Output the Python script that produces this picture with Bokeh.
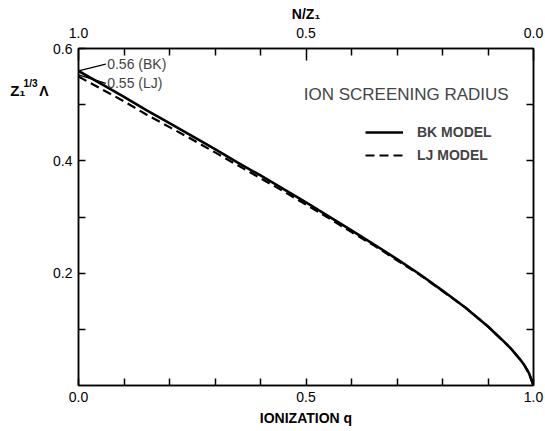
from bokeh.plotting import figure
from bokeh.models import (Range1d, LinearAxis, FixedTicker, Label, Legend,
                          LegendItem, NumeralTickFormatter, ColumnDataSource)
from bokeh.embed import file_html
from bokeh.resources import INLINE

# ---- data ----
ionization_q = [0.0, 0.05, 0.1, 0.15, 0.2, 0.25, 0.3, 0.35, 0.4, 0.45, 0.5,
                0.55, 0.6, 0.65, 0.7, 0.75, 0.8, 0.85, 0.9, 0.93, 0.95, 0.97,
                0.98, 0.99, 1.0]
bk_model = [0.560, 0.537, 0.514, 0.490, 0.467, 0.444, 0.421, 0.397, 0.374,
            0.350, 0.326, 0.301, 0.276, 0.251, 0.225, 0.198, 0.169, 0.139,
            0.105, 0.082, 0.066, 0.047, 0.036, 0.022, 0.0]
lj_model = [0.550, 0.528, 0.506, 0.482, 0.460, 0.438, 0.415, 0.392, 0.369,
            0.346, 0.322, 0.298, 0.273, 0.249, 0.223, 0.197, 0.168, 0.139,
            0.105, 0.082, 0.066, 0.047, 0.036, 0.022, 0.0]

x_major_ticks = [0.0, 0.5, 1.0]
x_minor_ticks = [0.1, 0.2, 0.3, 0.4, 0.6, 0.7, 0.8, 0.9]
nz_major_ticks = [1.0, 0.5, 0.0]
y_major_ticks = [0.2, 0.4, 0.6]
y_minor_ticks = [0.1, 0.3, 0.5]
y_right_ticks = [0.1, 0.2, 0.3, 0.4, 0.5]

bk_start_label = "0.56 (BK)"
lj_start_label = "0.55 (LJ)"
title_text = "ION SCREENING RADIUS"
x_label = "IONIZATION q"
top_label = "N/Z\u2081"
# y-axis label pieces  Z1^(1/3) Lambda and the heights they sit at
y_label_base = "Z\u2081"
y_label_power = "1/3"
y_label_symbol = "\u039b"
y_label_level = 0.525
y_label_power_level = 0.537

FONT = "Liberation Sans"

p = figure(width=545, height=431, x_range=Range1d(0, 1), y_range=Range1d(0, 0.6),
           output_backend="svg", toolbar_location=None,
           x_axis_location=None, y_axis_location=None)
p.min_border_left = 78
p.min_border_right = 12
p.min_border_top = 48
p.min_border_bottom = 46
p.outline_line_color = "black"
p.outline_line_width = 1.5
p.background_fill_color = "white"
p.border_fill_color = "white"
p.extra_x_ranges = {"nz": Range1d(1, 0)}


def style(ax, major_in=7):
    ax.axis_line_color = "black"
    ax.axis_line_width = 1.5
    ax.major_tick_in = major_in
    ax.major_tick_out = 0
    ax.minor_tick_in = 7
    ax.minor_tick_out = 0
    ax.major_tick_line_width = 1.5
    ax.minor_tick_line_width = 1.5
    ax.major_label_text_font = FONT
    ax.major_label_text_font_size = "14px"
    ax.major_label_text_color = "black"
    ax.axis_label_text_font = FONT
    ax.axis_label_text_font_size = "14px"
    ax.axis_label_text_font_style = "bold"
    ax.axis_label_text_color = "black"


bottom = LinearAxis(ticker=FixedTicker(ticks=x_major_ticks, minor_ticks=x_minor_ticks),
                    formatter=NumeralTickFormatter(format="0.0"), axis_label=x_label)
style(bottom)
bottom.major_label_standoff = 6
bottom.axis_label_standoff = 5
p.add_layout(bottom, "below")

top = LinearAxis(x_range_name="nz",
                 ticker=FixedTicker(ticks=nz_major_ticks, minor_ticks=x_minor_ticks),
                 formatter=NumeralTickFormatter(format="0.0"), axis_label=top_label)
style(top, major_in=12)
top.major_label_standoff = 11
top.axis_label_standoff = 3
p.add_layout(top, "above")

left = LinearAxis(ticker=FixedTicker(ticks=y_major_ticks, minor_ticks=y_minor_ticks),
                  formatter=NumeralTickFormatter(format="0.0"))
style(left)
left.major_label_standoff = 6
p.add_layout(left, "left")


def label_axis(level, text, size, standoff):
    ax = LinearAxis(ticker=FixedTicker(ticks=[level]),
                    major_label_overrides={level: text})
    ax.axis_line_alpha = 0
    ax.major_tick_in = 0
    ax.major_tick_out = 0
    ax.minor_tick_in = 0
    ax.minor_tick_out = 0
    ax.major_label_standoff = standoff
    ax.major_label_text_font = FONT
    ax.major_label_text_font_size = size
    ax.major_label_text_font_style = "bold"
    ax.major_label_text_color = "black"
    p.add_layout(ax, "left")


# stacked outward from the tick-label axis: Lambda, then 1/3, then Z1
label_axis(y_label_level, y_label_symbol, "14px", 2)
label_axis(y_label_power_level, y_label_power, "10px", -1)
label_axis(y_label_level, y_label_base, "15px", -5)

right = LinearAxis(ticker=FixedTicker(ticks=[], minor_ticks=y_right_ticks))
style(right)
p.add_layout(right, "right")

src = ColumnDataSource(dict(q=ionization_q, bk=bk_model, lj=lj_model))
r_bk = p.line("q", "bk", source=src, line_color="black", line_width=2.6)
r_lj = p.line("q", "lj", source=src, line_color="black", line_width=2.2,
              line_dash="9 5")

# leader lines to the start-value labels
lab_x = 0.06
p.segment(x0=[ionization_q[0], ionization_q[0]], y0=[bk_model[0], lj_model[0] + 0.003],
          x1=[lab_x, lab_x], y1=[bk_model[0] + 0.012, lj_model[0] - 0.012],
          line_color="black", line_width=1.3)

p.add_layout(Label(x=lab_x + 0.003, y=bk_model[0] + 0.012, text=bk_start_label,
                   text_font=FONT, text_font_size="14px", text_baseline="middle"))
p.add_layout(Label(x=lab_x + 0.003, y=lj_model[0] - 0.012, text=lj_start_label,
                   text_font=FONT, text_font_size="14px", text_baseline="middle"))

# title inside plot
p.add_layout(Label(x=0.495, y=0.518, text=title_text, text_font=FONT,
                   text_font_size="17px", text_baseline="alphabetic"))

legend = Legend(items=[LegendItem(label="BK MODEL", renderers=[r_bk]),
                       LegendItem(label="LJ MODEL", renderers=[r_lj])],
                location=(287, 220))
legend.padding = 0
legend.margin = 0
legend.spacing = 3
legend.glyph_width = 38
legend.glyph_height = 20
legend.label_height = 20
legend.label_standoff = 14
legend.label_text_font = FONT
legend.label_text_font_size = "14px"
legend.label_text_font_style = "bold"
legend.border_line_alpha = 0
legend.background_fill_alpha = 0
p.add_layout(legend, "center")

p.xgrid.visible = False
p.ygrid.visible = False

open("out.html", "w").write(file_html(p, INLINE))
